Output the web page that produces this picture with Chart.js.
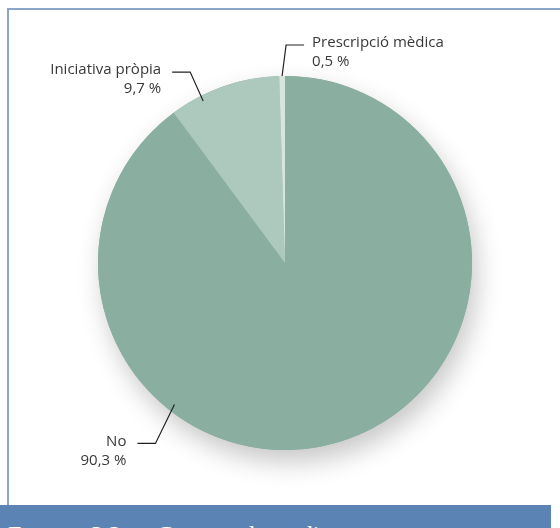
<!DOCTYPE html>
<html>
<head>
<meta charset="utf-8">
<script src="https://cdn.jsdelivr.net/npm/chart.js@4"></script>
<style>
    body { margin: 0; width: 560px; height: 528px; overflow: hidden; background: #fff; position: relative; }
    #frame { position: absolute; left: 7px; top: 8px; width: 600px; height: 520px; border-left: 2px solid #8ba6c9; border-top: 2px solid #8ba6c9; }
    #wrap { position: absolute; left: 0; top: 0; width: 560px; height: 505px; }
    #footer { position: absolute; left: 0; top: 505px; width: 551px; height: 23px; background: #5b84b5; overflow: hidden; }
    #footer span { position: absolute; left: 8px; top: 16px; color: #fff; font-family: "Liberation Serif", serif; font-size: 24px; white-space: nowrap; }
</style>
</head>
<body>
<div id="frame"></div>
<div id="wrap"><canvas id="pieChart"></canvas></div>
<div id="footer"><span>F<small>IGURA</small> 3.2&nbsp;&nbsp;&nbsp;&nbsp;&nbsp;&nbsp;Consum de medicaments</span></div>
<script>
const categories = ['No', 'Iniciativa pròpia', 'Prescripció mèdica'];
const values = [90.3, 9.7, 0.5];
const valueLabels = ['90,3 %', '9,7 %', '0,5 %'];
const colors = ['#8aae9f', '#adc8bc', '#d6e5de'];

// leader line setup per slice: where the line touches the slice, elbow offset, text side
const leaders = [
    { frac: 0.674, rIn: 0.96, elbow: [-19, 39], arm: -18, align: 'right' },
    { frac: 0.28, rIn: 0.97, elbow: [-13, -29], arm: -18, align: 'right' },
    { frac: 0.5, rIn: 1.0, elbow: [4, -31], arm: 18, align: 'left' }
];

const shadowPlugin = {
    id: 'pieShadow',
    beforeDatasetsDraw(chart) {
        const arc = chart.getDatasetMeta(0).data[0];
        const ctx = chart.ctx;
        ctx.save();
        ctx.shadowColor = 'rgba(0,0,0,0.22)';
        ctx.shadowBlur = 26;
        ctx.shadowOffsetX = 5;
        ctx.shadowOffsetY = 12;
        ctx.fillStyle = colors[0];
        ctx.beginPath();
        ctx.arc(arc.x, arc.y, arc.outerRadius, 0, Math.PI * 2);
        ctx.fill();
        ctx.restore();
    }
};

const labelPlugin = {
    id: 'leaderLabels',
    afterDatasetsDraw(chart) {
        const ctx = chart.ctx;
        chart.getDatasetMeta(0).data.forEach((arc, i) => {
            const cfg = leaders[i];
            const a = arc.startAngle + (arc.endAngle - arc.startAngle) * cfg.frac;
            const px = arc.x + Math.cos(a) * arc.outerRadius * cfg.rIn;
            const py = arc.y + Math.sin(a) * arc.outerRadius * cfg.rIn;
            const ex = px + cfg.elbow[0];
            const ey = py + cfg.elbow[1];
            const hx = ex + cfg.arm;

            ctx.save();
            ctx.strokeStyle = '#222';
            ctx.lineWidth = 1.2;
            ctx.beginPath();
            ctx.moveTo(px, py);
            ctx.lineTo(ex, ey);
            ctx.lineTo(hx, ey);
            ctx.stroke();

            ctx.fillStyle = '#383838';
            ctx.font = '15px "Open Sans", sans-serif';
            ctx.textBaseline = 'middle';
            ctx.textAlign = cfg.align;
            const tx = cfg.align === 'right' ? hx - 11 : hx + 8;
            ctx.fillText(categories[i], tx, ey - 2);
            ctx.fillText(valueLabels[i], tx, ey + 17);
            ctx.restore();
        });
    }
};

new Chart(document.getElementById('pieChart'), {
    type: 'pie',
    data: {
        labels: categories,
        datasets: [{
            data: values,
            backgroundColor: colors,
            borderWidth: 0
        }]
    },
    options: {
        responsive: true,
        maintainAspectRatio: false,
        animation: false,
        layout: { padding: { left: 98, right: 88, top: 76, bottom: 55 } },
        plugins: {
            legend: { display: false },
            tooltip: { enabled: false }
        }
    },
    plugins: [shadowPlugin, labelPlugin]
});
</script>
</body>
</html>
